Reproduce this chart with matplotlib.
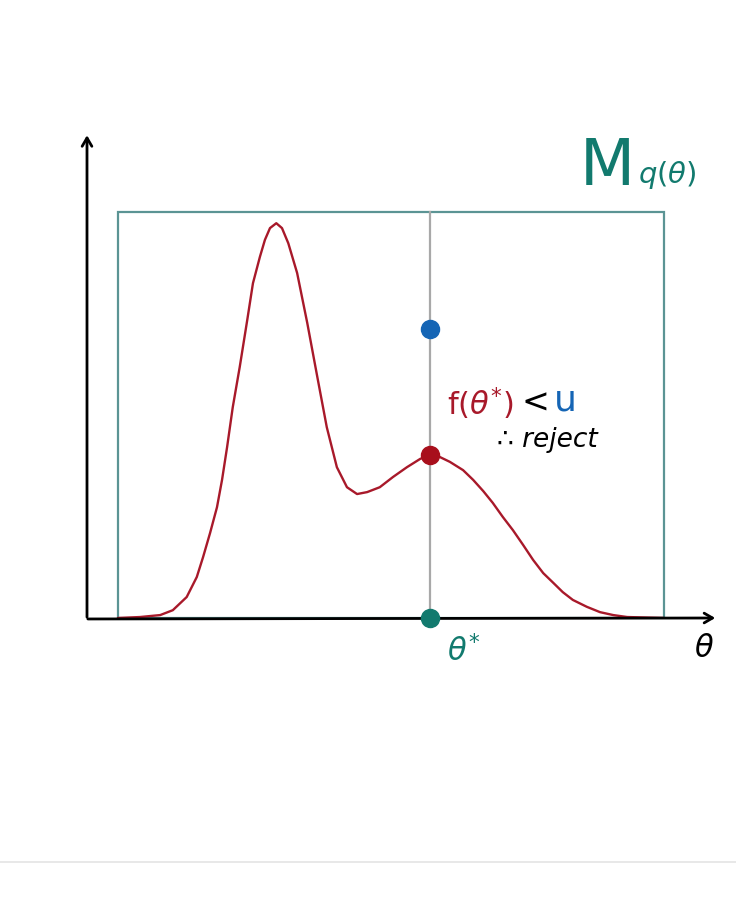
import matplotlib
matplotlib.use("Agg")
import matplotlib.pyplot as plt
from matplotlib.patches import Rectangle
from matplotlib.lines import Line2D

# ---- data ----
theta_curve = [0.49, 0.84, 1.16, 1.36, 1.58, 1.74, 1.84, 1.95, 2.06, 2.14, 2.22, 2.31, 2.42,
               2.54, 2.63, 2.74, 2.82, 2.90, 3.00, 3.09, 3.19, 3.33, 3.49, 3.65, 3.80,
               3.96, 4.12, 4.28, 4.44, 4.64, 4.85, 5.07, 5.28, 5.44, 5.59, 5.75, 5.96,
               6.12, 6.28, 6.43, 6.59, 6.75, 6.91, 7.07, 7.23, 7.39, 7.54, 7.70, 7.92,
               8.13, 8.34, 8.56, 9.14]
density_curve = [0.0, 0.002, 0.006, 0.016, 0.043, 0.084, 0.125, 0.174, 0.227, 0.283, 0.350, 0.432, 0.514,
                 0.611, 0.686, 0.740, 0.775, 0.799, 0.809, 0.799, 0.768, 0.707, 0.605, 0.494, 0.391,
                 0.309, 0.268, 0.254, 0.258, 0.268, 0.289, 0.309, 0.326, 0.334, 0.330, 0.320, 0.303,
                 0.283, 0.260, 0.236, 0.207, 0.180, 0.150, 0.119, 0.092, 0.072, 0.053, 0.037, 0.023,
                 0.012, 0.006, 0.002, 0.0]
box_range = [0.49, 9.14]      # support of proposal q(theta)
M_q_height = 0.832            # envelope height M q(theta)
theta_star = 5.43
u_value = 0.592
f_star = 0.334

RED = "#a8192a"
TEAL = "#127a6e"
BLUE = "#1565b5"
BOXC = "#5b9494"

fig = plt.figure(figsize=(7.36, 9.24), dpi=100)
ax = fig.add_axes([87/736, (924-618)/924, 631/736, 488/924])
ax.set_xlim(0, 10)
ax.set_ylim(0, 1)
ax.axis("off")

# bottom separator line of the page
fig.add_artist(Line2D([0, 1], [1-862/924, 1-862/924], color="#e4e4e4", lw=1.2))

# envelope box
ax.add_patch(Rectangle((box_range[0], 0), box_range[1]-box_range[0], M_q_height,
                       fill=False, edgecolor=BOXC, lw=1.6, zorder=2))
# vertical line at theta*
ax.plot([theta_star, theta_star], [0, M_q_height], color="#a8a8a8", lw=1.6, zorder=2)

# target density
ax.plot(theta_curve, density_curve, color=RED, lw=1.7, zorder=3,
        solid_capstyle="round", solid_joinstyle="round")

# axes with arrows
ax.annotate("", xy=(10.0, 0.0), xytext=(-0.03, -0.002),
            arrowprops=dict(arrowstyle="->,head_length=0.6,head_width=0.35", color="black", lw=2.0),
            annotation_clip=False, zorder=4)
ax.annotate("", xy=(0.0, 0.995), xytext=(0.0, -0.004),
            arrowprops=dict(arrowstyle="->,head_length=0.6,head_width=0.35", color="black", lw=2.0),
            annotation_clip=False, zorder=4)

# points
ax.plot([theta_star], [u_value], "o", color=BLUE, ms=13, zorder=5, clip_on=False)
ax.plot([theta_star], [f_star], "o", color="#a80f1c", ms=13, zorder=5, clip_on=False)
ax.plot([theta_star], [0.0], "o", color=TEAL, ms=13, zorder=5, clip_on=False)

# labels
ax.text(7.81, 0.887, "M", color=TEAL, fontsize=46, ha="left", va="baseline",
        family="DejaVu Sans", fontweight="normal")
ax.text(8.74, 0.892, r"$q(\theta)$", color=TEAL, fontsize=21, ha="left", va="baseline")
ax.text(5.71, 0.44, r"$\mathrm{f}(\theta^{*})$", color=RED, fontsize=22, ha="left", va="center")
ax.text(7.10, 0.44, "<", color="black", fontsize=24, ha="center", va="center")
ax.text(7.58, 0.445, "u", color=BLUE, fontsize=26, ha="center", va="center")
ax.text(6.50, 0.365, "∴ reject", color="black", fontsize=19, ha="left", va="center",
        style="italic")
ax.text(5.71, -0.068, r"$\theta^{*}$", color=TEAL, fontsize=22, ha="left", va="center")
ax.text(9.78, -0.063, r"$\theta$", color="black", fontsize=22, ha="center", va="center")

fig.savefig("out.png", dpi=100, facecolor="white")
